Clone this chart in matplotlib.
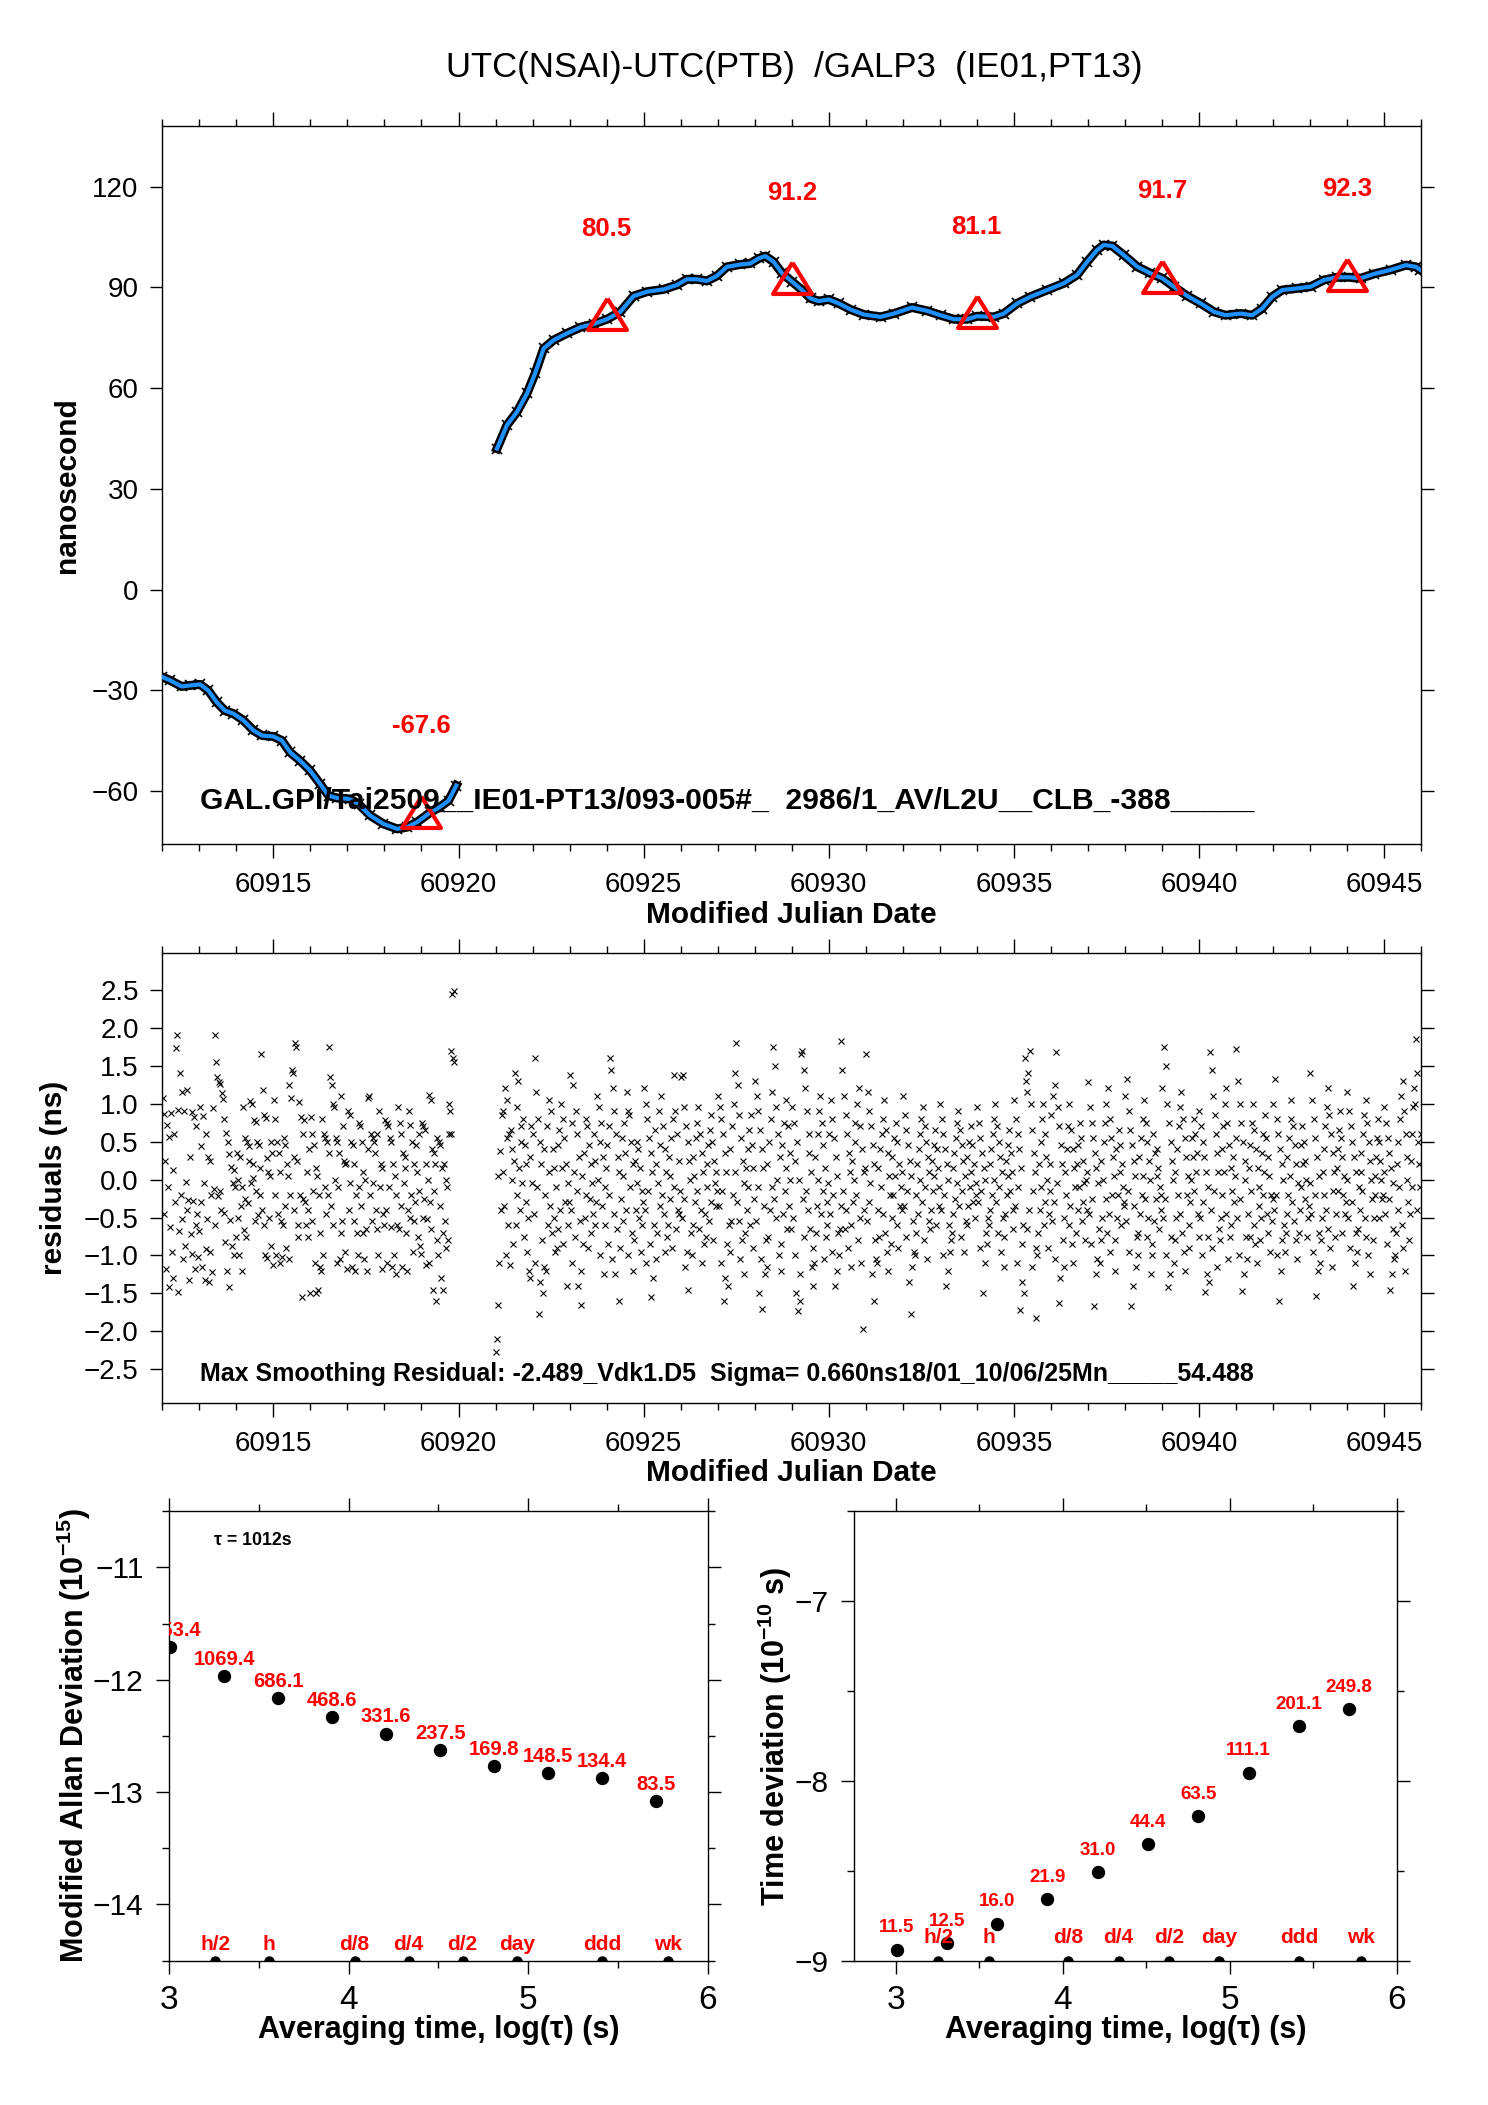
import numpy as np
import matplotlib
matplotlib.use("Agg")
import matplotlib.pyplot as plt
from matplotlib.ticker import MultipleLocator

plt.rcParams['font.family'] = ['Liberation Sans', 'DejaVu Sans']
plt.rcParams['mathtext.fontset'] = 'custom'
plt.rcParams['mathtext.rm'] = 'Liberation Sans'
plt.rcParams['mathtext.bf'] = 'Liberation Sans:bold'
plt.rcParams['axes.linewidth'] = 1.0

RED = '#ff0000'
BLUE = '#1e90ff'

# time offset UTC(NSAI)-UTC(PTB), ns, before and after the data gap
seg1_mjd = [60912.0, 60912.21, 60912.52, 60912.75, 60913.02, 60913.24, 60913.47, 60913.69,
            60913.92, 60914.19, 60914.46, 60914.69, 60915.0, 60915.23, 60915.45, 60915.72,
            60915.99, 60916.26, 60916.49, 60916.71, 60917.07, 60917.30, 60917.61, 60917.97,
            60918.34, 60918.61, 60918.88, 60919.24, 60919.51, 60919.73, 60919.94]
seg1_ns = [-26.0, -27.0, -28.8, -28.5, -28.2, -30.0, -33.5, -36.0, -36.9, -38.9, -41.9, -43.4,
           -43.7, -44.9, -48.4, -50.9, -53.8, -57.8, -61.3, -62.0, -62.3, -63.8, -67.2, -69.7,
           -71.2, -70.7, -69.2, -66.3, -64.6, -62.8, -58.3]

seg2_mjd = [60921.04, 60921.31, 60921.58, 60921.85, 60922.07, 60922.30, 60922.57, 60922.93,
            60923.29, 60923.65, 60924.01, 60924.37, 60924.73, 60925.09, 60925.54, 60925.90,
            60926.17, 60926.44, 60926.71, 60926.98, 60927.25, 60927.61, 60927.88, 60928.11,
            60928.29, 60928.51, 60928.74, 60929.01, 60929.28, 60929.51, 60929.73, 60930.0,
            60930.27, 60930.59, 60930.95, 60931.40, 60931.76, 60932.25, 60932.66, 60933.02,
            60933.38, 60933.74, 60934.01, 60934.46, 60934.73, 60935.09, 60935.45, 60935.90,
            60936.35, 60936.71, 60936.98, 60937.25, 60937.43, 60937.66, 60937.97, 60938.34,
            60938.69, 60939.01, 60939.32, 60939.69, 60940.05, 60940.41, 60940.72, 60941.13,
            60941.44, 60941.71, 60941.98, 60942.25, 60942.66, 60943.02, 60943.38, 60943.74,
            60944.05, 60944.37, 60944.73, 60945.18, 60945.59, 60945.86, 60945.98]
seg2_ns = [42.0, 49.0, 52.9, 58.4, 64.4, 71.8, 74.3, 76.3, 78.1, 79.1, 80.5, 82.7, 87.4, 88.7,
           89.4, 90.7, 92.4, 92.4, 91.9, 93.4, 96.1, 96.8, 97.1, 98.6, 99.3, 97.6, 94.2, 91.7,
           89.2, 86.7, 85.9, 86.4, 85.2, 83.4, 81.9, 81.2, 82.2, 84.0, 83.0, 81.7, 80.5, 80.5,
           81.4, 81.2, 82.2, 85.2, 87.2, 89.2, 91.2, 93.7, 97.6, 101.1, 102.6, 102.3, 99.6, 96.1,
           94.2, 92.7, 90.2, 87.4, 85.2, 82.7, 81.7, 82.2, 81.7, 83.7, 87.2, 89.2, 89.7, 90.2,
           92.2, 93.0, 93.0, 92.7, 94.0, 95.2, 96.6, 96.1, 95.2]

# daily values marked with triangles
mark_mjd = [60919, 60924, 60929, 60934, 60939, 60944]
mark_ns = [-67.6, 80.5, 91.2, 81.1, 91.7, 92.3]

# smoothing residuals, hundredths of ns, one row per day (regular epochs in the day)
res_days = [60912, 60913, 60914, 60915, 60916, 60917, 60918, 60919,
            60921, 60922, 60923, 60924, 60925, 60926, 60927, 60928, 60929, 60930,
            60931, 60932, 60933, 60934, 60935, 60936, 60937, 60938, 60939, 60940,
            60941, 60942, 60943, 60944, 60945]
res_span = [1.0] * 7 + [0.9] + [1.0] * 25
res_rows = [
    "107 -45 86 25 -118 72 -10 -142 56 -62 88 -95 12 -130 60 -30 173 190 -148 92 -68 141 -20 115 -52 -105 90 -88 -3 118 -40 -27 -132 30 -72 89 -98 -28 82 -118 70 -60 -45 -102 -68",
    "95 -30 44 -115 84 -5 -132 60 -92 -52 30 -135 24 -96 -20 -122 94 -12 190 -60 155 135 -22 128 -15 126 -40 114 106 -44 80 -82 61 -120 50 -142 34 -53 16 -88 -4 12 -100 -10 -75",
    "35 -50 0 -100 30 -35 -121 -10 95 -66 55 -25 -75 50 -31 44 24 103 -5 100 20 2 79 -55 76 -15 50 -46 45 15 -20 165 -40 118 -60 85 -100 81 28 -103 10 -50 5 -88 50 35 -112",
    "105 -20 80 -100 50 -45 35 -110 10 -55 -102 -60 55 -35 45 -90 20 5 -105 125 -20 108 145 140 -40 30 180 175 25 -60 -75 102 -20 82 -155 60 -25 78 -30 -60 10 -75 -40 40 -150",
    "82 -55 60 -15 45 -110 15 -150 5 -145 -20 -70 -115 -120 80 -100 60 -10 55 -45 50 -20 35 175 135 -35 125 100 -60 95 0 55 -110 50 -10 35 -105 -70 110 -55 70 25 -95 20 22 -118",
    "90 -40 85 -5 50 -115 45 -55 20 -120 -20 -70 -100 75 -10 70 -35 50 -70 10 -105 0 -65 -120 108 40 110 -20 60 -55 55 -5 50 35 -40 -65 60 -100 90 -10 20 15 -118 -45 -60",
    "78 -40 75 -110 70 -10 55 -62 50 -115 20 -100 5 -125 -20 -60 95 -65 75 -35 60 -115 35 -5 30 15 -70 -120 -40 90 -50 72 -20 50 -95 20 -55 -30 45 10 -75 -15 60 -88 -98",
    "75 -50 70 -25 65 -112 20 -52 0 -110 112 -30 105 -65 40 -145 35 -15 20 -160 -80 55 -100 50 -35 45 -130 15 -70 -145 20 -55 0 -90 -10 -80 100 60 90 60 170 245 160 248 155",
    "-227 -210 -165 5 -110 38 -40 85 10 90 -35 120 -100 105 55 -60 60 -112 65 0 40 -85 25 140 -60 95 -20 130 15 -40 50 70 -5 80 -75 45 -30 20 -95 -50 -120 30 -130 70 -5",
    "60 -45 160 -110 115 -10 80 -177 50 -135 20 -80 -150 40 -115 -20 -120 70 -60 10 105 -35 90 -70 40 -50 15 -95 -10 -90 45 -65 65 -40 100 15 80 -85 55 -30 20 -140 -5 -60 -30",
    "138 -40 75 -110 125 10 -75 90 -15 60 -140 30 -55 -165 -120 5 -85 35 -50 80 -20 70 -90 45 -25 20 -70 -5 -45 60 -60 25 -30 110 0 95 50 -100 75 -35 30 -125 -10 -60 15",
    "45 -85 70 -20 160 145 -105 120 -45 90 -125 60 -65 30 -160 10 -90 -25 55 -55 5 75 35 -40 115 -100 90 85 -10 50 -70 20 -120 -80 25 -40 50 -5 40 -50 15 -95 -15 -60 -30",
    "120 -40 100 -110 80 -15 55 -85 35 -155 10 -130 -60 65 -105 20 -70 -5 90 -35 45 110 -20 70 -45 40 -95 10 -75 -60 30 -25 5 55 -90 80 138 -10 90 -65 60 -40 25 -45 -15",
    "135 -50 138 -25 95 -115 70 -95 50 -145 25 0 -70 -100 30 -60 5 -30 55 75 -15 95 -65 60 -40 35 -110 10 -85 -45 -75 20 -10 45 -55 65 85 -30 50 -80 25 -5 -35 10 -15",
    "110 -35 95 -110 80 -15 60 -160 35 -130 10 -85 -140 -60 -95 40 -55 70 -20 100 10 140 180 -30 125 -55 85 -105 55 -80 25 -125 -5 -70 15 -40 40 -10 65 -60 85 45 -90 15 -25",
    "130 -55 110 -10 90 -150 65 -105 40 -170 15 -35 -125 -80 -115 20 -75 50 -40 80 -10 115 175 -25 150 -50 95 0 60 -100 30 -120 -85 45 -45 75 -15 15 105 -65 70 -35 35 0 -65",
    "95 -50 75 -100 25 -150 50 -173 0 -125 -160 165 170 -25 145 -75 120 -15 90 -40 60 35 -65 10 -115 -90 -140 -110 30 -70 -35 60 0 90 110 -45 75 -15 45 -105 15 -75 -60 -30 -5",
    "60 -45 105 -95 80 -20 55 -140 30 -120 5 -70 -100 -65 182 -35 145 -15 110 -65 85 -40 60 -90 35 10 -115 -60 25 -30 0 50 75 -20 100 -80 120 -50 70 -110 40 -197 10 -40 15",
    "165 -55 115 -30 90 -5 70 -125 45 -160 20 -80 -105 -110 -40 15 -75 40 -10 60 80 -45 105 -70 65 -95 35 -120 5 -20 -85 -50 30 -20 55 5 75 -60 50 -90 20 -35 -10 -40 10",
    "110 -35 85 -75 65 -15 45 -135 25 -177 5 -115 -55 -95 -100 -20 -70 20 -45 40 0 60 80 -30 95 -80 70 -10 50 -105 30 -55 10 -65 -40 25 -15 45 5 65 -60 40 15 -35 -10",
    "100 -40 80 -100 60 -20 40 -140 20 -120 0 -60 -95 -80 -70 15 -45 35 -25 55 -5 75 90 -35 65 -75 45 -15 25 -95 5 -55 -60 30 -35 50 -10 70 10 45 -30 20 -50 -5 -20",
    "95 -30 75 -90 55 -15 35 -150 15 -110 0 -70 -85 -50 -60 20 -40 40 -20 60 0 80 100 -30 70 -70 50 -10 30 -95 10 -50 -115 -75 -45 25 -20 45 5 65 -15 35 10 -65 -40",
    "105 -35 80 -110 60 -10 40 -172 15 -135 -85 -60 -150 160 130 -65 115 140 -40 170 100 -115 65 -15 35 10 -182 -90 -100 -70 20 -40 50 -10 80 100 -60 60 -30 30 0 -90 -45 -15 20",
    "85 -55 110 -30 125 -105 168 -5 95 -162 70 -130 45 20 -80 -115 -50 10 -20 40 70 -60 100 -35 65 -85 40 -110 15 -10 -70 20 -40 45 -10 75 55 -55 25 -30 -5 -80 0 -40 10",
    "128 -45 95 -85 75 -25 55 -167 35 -125 15 -105 -5 -65 -110 -80 25 -50 0 50 75 -25 100 -70 120 -45 80 -95 55 -20 30 5 -120 -80 40 -50 -20 65 10 45 -60 20 -10 -35 -30",
    "110 -55 133 -15 90 -95 65 -167 45 -140 25 -35 5 -115 -75 -100 -70 30 -45 55 -20 80 5 105 -25 75 -75 50 -50 25 0 -125 -100 -85 60 -55 35 -25 5 40 15 -65 -10 -40 -20",
    "120 -50 175 -25 150 -100 100 -142 75 -125 50 -75 25 0 -110 -80 10 -50 40 -20 70 95 -45 115 -70 80 -95 55 -120 30 -20 5 -90 -60 -30 0 55 30 80 -15 60 10 35 -45 -75",
    "90 -50 70 -100 50 -30 30 -148 10 -125 -10 -75 -135 168 -40 145 -90 110 -15 85 60 -115 35 10 -65 -80 -50 40 -20 70 10 100 120 -45 75 -105 45 -75 15 -60 -15 30 -30 5 55",
    "172 -50 130 -100 100 -25 75 -147 50 -125 25 0 -75 -105 -45 15 -75 45 -15 75 100 -60 65 -85 40 -110 15 -35 -10 -80 -50 35 -20 60 10 85 55 -45 30 -70 5 -95 -20 -55 -25",
    "100 -40 132 -20 80 -100 60 -160 40 -120 20 -80 0 -60 -95 -70 -45 30 -20 55 5 80 105 -30 70 -55 45 -80 20 -105 -5 -70 -40 45 -10 70 20 50 -25 25 0 -75 -50 -35 -5",
    "140 -45 105 -95 80 -20 55 -153 30 -120 5 -70 -110 -80 -50 10 -20 40 70 -40 95 120 -65 85 -90 60 -115 35 -15 10 -75 -45 15 40 -15 65 90 55 -70 30 -20 5 -45 -30 0",
    "115 -50 90 -90 70 -30 50 -140 30 -110 10 -70 -95 -65 -10 -40 10 35 -15 60 85 -50 105 -75 75 -100 50 -125 25 0 -25 -80 -50 5 -20 30 55 80 -50 50 25 0 -25 -20 10",
    "95 -45 75 -85 55 -25 35 -145 15 -125 -5 -65 -105 -100 -70 20 -40 50 -10 80 110 -60 130 -90 90 -120 60 30 0 -30 -80 -45 25 -10 60 95 120 100 185 -40 140 50 20 -10 60",
]

# stability: log10(tau) for tau = 1012 s * 2^n
tau_log = [3.005, 3.306, 3.607, 3.908, 4.209, 4.510, 4.811, 5.112, 5.413, 5.714]
mdev_log = [-11.709, -11.971, -12.164, -12.329, -12.479, -12.624, -12.770, -12.828, -12.872, -13.078]
mdev_labels = ['1953.4', '1069.4', '686.1', '468.6', '331.6', '237.5', '169.8', '148.5', '134.4', '83.5']
tdev_log = [-8.939, -8.903, -8.796, -8.660, -8.509, -8.353, -8.197, -7.954, -7.697, -7.602]
tdev_labels = ['11.5', '12.5', '16.0', '21.9', '31.0', '44.4', '63.5', '111.1', '201.1', '249.8']
span_names = ['h/2', 'h', 'd/8', 'd/4', 'd/2', 'day', 'ddd', 'wk']
span_log = [3.255, 3.556, 4.033, 4.334, 4.635, 4.937, 5.414, 5.782]

res_t = []
res_v = []
for day, span, row in zip(res_days, res_span, res_rows):
    vals = np.array(row.split(), dtype=float) / 100.0
    n = len(vals)
    res_t.extend(day + span * (np.arange(n) + 0.5) / n)
    res_v.extend(vals)

fig = plt.figure(figsize=(14.88, 21.05), dpi=100)
fig.text(0.534, 0.968, 'UTC(NSAI)-UTC(PTB)  /GALP3  (IE01,PT13)', ha='center', va='center', fontsize=25)

# ---------------- top: time offset
ax1 = fig.add_axes([0.1091, 0.5989, 0.8459, 0.3412])
for m, v in ((seg1_mjd, seg1_ns), (seg2_mjd, seg2_ns)):
    ax1.plot(m, v, color='black', lw=6.5, zorder=2)
    ax1.plot(m, v, 'x', color='black', ms=7, mew=1.2, zorder=2)
    ax1.plot(m, v, color=BLUE, lw=3, zorder=3)

tri = [(0, 19.3), (-18, -9.7), (18, -9.7), (0, 19.3)]
ax1.plot(mark_mjd, mark_ns, ls='none', marker=tri, ms=30, mfc='none', mec=RED, mew=3, zorder=4)
for m, v in zip(mark_mjd, mark_ns):
    ax1.annotate(f'{v:.1f}', (m, v), xytext=(0, 65), textcoords='offset points',
                 ha='center', va='center', color=RED, fontsize=18.5, fontweight='bold')

ax1.text(0.030, 0.049, 'GAL.GPI/Tai2509__IE01-PT13/093-005#_  2986/1_AV/L2U__CLB_-388_____',
         transform=ax1.transAxes, fontsize=21.6, fontweight='bold', va='baseline', zorder=6)

ax1.set_xlim(60912, 60946)
ax1.set_ylim(-75.8, 138)
ax1.xaxis.set_major_locator(MultipleLocator(5))
ax1.xaxis.set_minor_locator(MultipleLocator(1))
ax1.yaxis.set_major_locator(MultipleLocator(30))
ax1.ticklabel_format(axis='x', useOffset=False, style='plain')
ax1.tick_params(axis='x', which='major', direction='out', length=10, width=1, top=True, labelsize=20, pad=10)
ax1.tick_params(axis='x', which='minor', direction='out', length=5, width=1, top=True)
ax1.tick_params(axis='y', which='major', direction='out', length=9, width=1, right=True, labelsize=20, pad=8)
ax1.set_xlabel('Modified Julian Date', fontsize=21.5, fontweight='bold', va='center')
ax1.xaxis.set_label_coords(0.5, -0.0985)
ax1.set_ylabel('nanosecond', fontsize=21.5, fontweight='bold', va='center')
ax1.yaxis.set_label_coords(-0.0757, 0.5)

# ---------------- middle: residuals
ax2 = fig.add_axes([0.1091, 0.3336, 0.8459, 0.2135])
ax2.plot(res_t, res_v, ls='none', marker='x', color='black', ms=4.5, mew=0.8)
ax2.text(0.030, 0.049, 'Max Smoothing Residual: -2.489_Vdk1.D5  Sigma= 0.660ns18/01_10/06/25Mn_____54.488',
         transform=ax2.transAxes, fontsize=18, fontweight='bold', va='baseline')
ax2.set_xlim(60912, 60946)
ax2.set_ylim(-2.94, 2.98)
ax2.xaxis.set_major_locator(MultipleLocator(5))
ax2.xaxis.set_minor_locator(MultipleLocator(1))
ax2.yaxis.set_major_locator(MultipleLocator(0.5))
ax2.ticklabel_format(axis='x', useOffset=False, style='plain')
ax2.tick_params(axis='x', which='major', direction='out', length=10, width=1, top=True, labelsize=20, pad=10)
ax2.tick_params(axis='x', which='minor', direction='out', length=5, width=1, top=True)
ax2.tick_params(axis='y', which='major', direction='out', length=9, width=1, right=True, labelsize=20, pad=8)
ax2.set_xlabel('Modified Julian Date', fontsize=21.5, fontweight='bold', va='center')
ax2.xaxis.set_label_coords(0.5, -0.157)
ax2.set_ylabel('residuals (ns)', fontsize=21.5, fontweight='bold', va='center')
ax2.yaxis.set_label_coords(-0.086, 0.5)


def stability_axes(ax, offset):
    ax.xaxis.set_major_locator(MultipleLocator(1))
    ax.xaxis.set_minor_locator(MultipleLocator(0.5))
    ax.yaxis.set_major_locator(MultipleLocator(1))
    ax.yaxis.set_minor_locator(MultipleLocator(0.5))
    ax.tick_params(which='major', direction='out', length=9.5, width=1, top=True, right=True)
    ax.tick_params(which='minor', direction='out', length=5, width=1, top=True, right=True)
    ax.tick_params(axis='x', labelsize=24, pad=8)
    ax.tick_params(axis='y', labelsize=21.5, pad=9)
    ax.plot(span_log, np.zeros(len(span_log)), ls='none', marker='o', color='black', ms=6.5,
            transform=ax.get_xaxis_transform(), clip_on=True)
    for x, name in zip(span_log, span_names):
        ax.annotate(name, (x, 0), xycoords=ax.get_xaxis_transform(), xytext=(0, offset),
                    textcoords='offset points', ha='center', va='baseline', color=RED,
                    fontsize=15, fontweight='bold')
    ax.set_xlabel('Averaging time, log(τ) (s)', fontsize=22, fontweight='bold', va='center')
    ax.xaxis.set_label_coords(0.5, -0.155)


# ---------------- bottom left: modified Allan deviation
ax3 = fig.add_axes([0.1138, 0.0686, 0.3617, 0.2135])
ax3.set_xlim(3, 6)
ax3.set_ylim(-14.5, -10.5)
ax3.plot(tau_log, mdev_log, ls='none', marker='o', color='black', ms=8.6)
for x, y, s in zip(tau_log, mdev_log, mdev_labels):
    ax3.annotate(s, (x, y), xytext=(0, 8), textcoords='offset points', ha='center', va='baseline',
                 color=RED, fontsize=14.5, fontweight='bold', clip_on=True)
stability_axes(ax3, 7.7)
ax3.text(0.083, 0.935, 'τ = 1012s', transform=ax3.transAxes, fontsize=12.8, fontweight='bold', va='center')
ax3.set_ylabel(r'Modified Allan Deviation (10$^{\mathbf{-15}}$)', fontsize=22, fontweight='bold', va='center')
ax3.yaxis.set_label_coords(-0.177, 0.5)

# ---------------- bottom right: time deviation
ax4 = fig.add_axes([0.5739, 0.0686, 0.3649, 0.2135])
ax4.set_xlim(2.75, 6)
ax4.set_ylim(-9, -6.5)
ax4.plot(tau_log, tdev_log, ls='none', marker='o', color='black', ms=8.6)
for x, y, s in zip(tau_log, tdev_log, tdev_labels):
    ax4.annotate(s, (x, y), xytext=(0, 12.6), textcoords='offset points', ha='center', va='baseline',
                 color=RED, fontsize=13.5, fontweight='bold', clip_on=True)
stability_axes(ax4, 13)
ax4.set_ylabel(r'Time deviation (10$^{\mathbf{-10}}$ s)', fontsize=22, fontweight='bold', va='center')
ax4.yaxis.set_label_coords(-0.146, 0.5)

fig.savefig('out.png', dpi=100)
